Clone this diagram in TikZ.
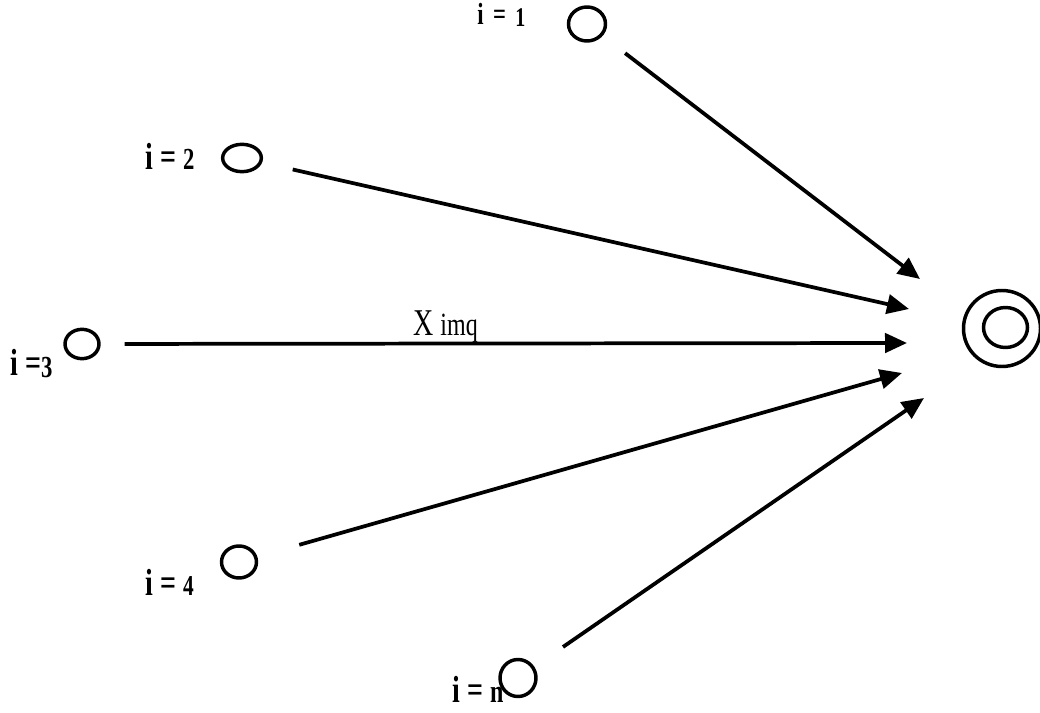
\documentclass[tikz,border=0pt]{standalone}
\usepackage{fontspec}
\setmainfont{Liberation Serif}
\usetikzlibrary{arrows.meta,shapes.geometric}
\newcommand{\fs}[1]{\fontsize{#1}{#1}\selectfont}
\newcommand{\tall}[1]{\scalebox{1}[1.35]{#1}}
\begin{document}
\begin{tikzpicture}[x={(0.75pt,0)},y={(0,-0.75pt)},
  ring/.style={draw,ellipse,line width=2.6pt,inner sep=0pt},
  lbl/.style={anchor=base west,inner sep=0pt,font=\bfseries},
  arr/.style={line width=2.8pt,-{Triangle[length=16.5pt,width=14.5pt]}}]
\useasboundingbox (0,0) rectangle (1040,713);
% source nodes
\node[ring,minimum width=27.75pt,minimum height=25.5pt] (s1) at (587,24) {};
\node[ring,minimum width=29pt,minimum height=20.5pt] (s2) at (242,158) {};
\node[ring,minimum width=25.5pt,minimum height=22pt] (s3) at (82,344) {};
\node[ring,minimum width=26.25pt,minimum height=24pt] (s4) at (239,562) {};
\node[ring,minimum width=27pt,minimum height=27.75pt] (sn) at (518,678) {};
% target (double circle)
\node[ring,minimum width=57.75pt,minimum height=57pt] (T) at (1002,328.5) {};
\node[ring,minimum width=33pt,minimum height=30pt] (Ti) at (1005.5,327.5) {};
% labels
\node[lbl] (l1) at (477,25) {\tall{\fs{17}i\, =\, \raisebox{-1pt}{\fs{15}1}}};
\node[lbl] (l2) at (145,170) {\tall{\fs{21}i = {\fs{17}2}}};
\node[lbl] (l3) at (10,375) {\tall{\fs{21}i =\raisebox{-1.5pt}{\fs{17}3}}};
\node[lbl] (l4) at (145,595) {\tall{\fs{21}i = {\fs{16}4}}};
\node[lbl] (ln) at (452,702) {\tall{\fs{21}i = {\fs{18}n}}};
\node[anchor=base west,inner sep=0pt] (xl) at (413,335) {\tall{\fs{21}X {\fs{18}imq}}};
% arrow tips (free ends)
\coordinate (e1) at (920,279);
\coordinate (e2) at (909,309);
\coordinate (e3) at (907,343);
\coordinate (e4) at (902,373);
\coordinate (en) at (924,398);
% connectors
\draw[arr,shorten <=36pt] (s1.center) -- (e1);
\draw[arr,shorten <=39pt] (s2.center) -- (e2);
\draw[arr,shorten <=32pt] (s3.center) -- (e3);
\draw[arr,shorten <=47pt] (s4.center) -- (e4);
\draw[arr,shorten <=41pt] (sn.center) -- (en);
\end{tikzpicture}
\end{document}
